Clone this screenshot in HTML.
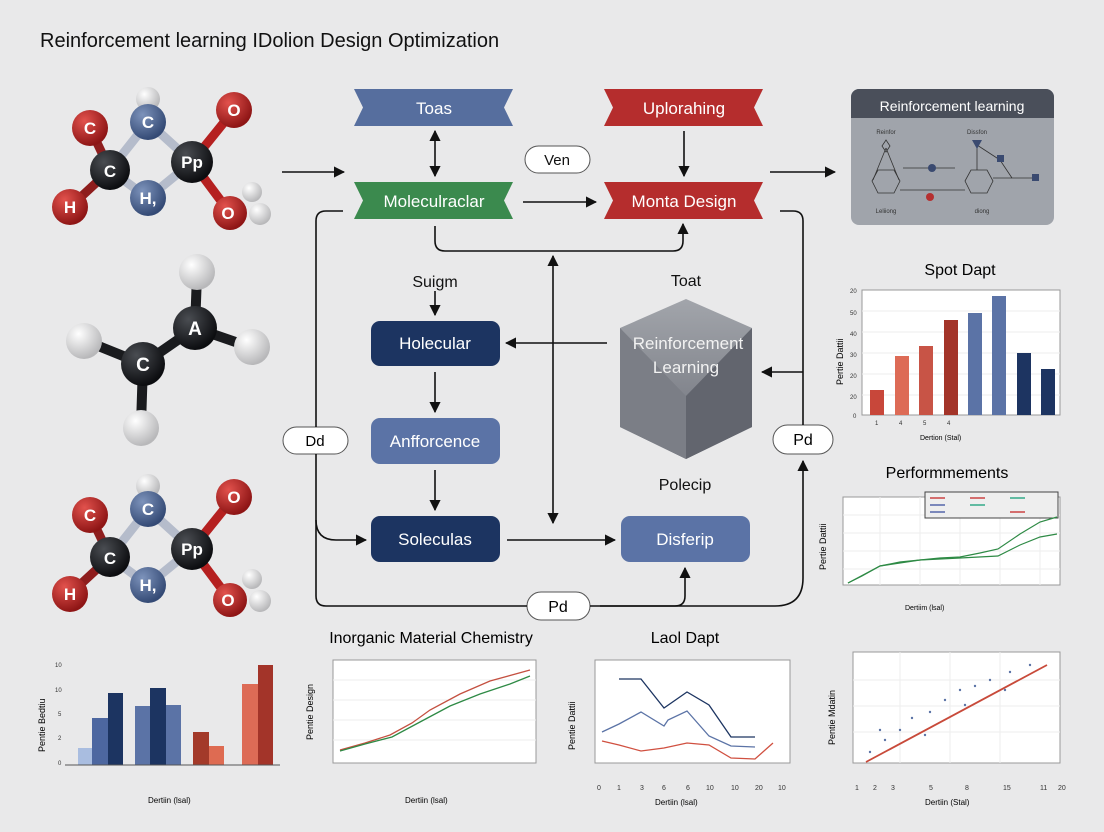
<!DOCTYPE html>
<html><head><meta charset="utf-8"><style>
html,body{margin:0;padding:0;background:#e9e9ea;}
svg{display:block;font-family:"Liberation Sans",sans-serif;}
</style></head><body>
<svg width="1104" height="832" viewBox="0 0 1104 832" xmlns="http://www.w3.org/2000/svg">
<defs>
<radialGradient id="gr" cx="35%" cy="30%" r="70%"><stop offset="0" stop-color="#e2524d"/><stop offset="1" stop-color="#8e1515"/></radialGradient>
<radialGradient id="gb" cx="35%" cy="30%" r="70%"><stop offset="0" stop-color="#7d93bb"/><stop offset="1" stop-color="#344a75"/></radialGradient>
<radialGradient id="gk" cx="35%" cy="30%" r="70%"><stop offset="0" stop-color="#4a4d52"/><stop offset="1" stop-color="#0c0d10"/></radialGradient>
<radialGradient id="gw" cx="35%" cy="30%" r="70%"><stop offset="0" stop-color="#ffffff"/><stop offset="1" stop-color="#b8b8ba"/></radialGradient>
<linearGradient id="hex" x1="0" y1="0" x2="0" y2="1"><stop offset="0" stop-color="#a2a5ab"/><stop offset="1" stop-color="#6d7079"/></linearGradient>
<marker id="ah" viewBox="0 0 10 10" refX="9" refY="5" markerWidth="7" markerHeight="7" orient="auto-start-reverse"><path d="M0,0L10,5L0,10z" fill="#111"/></marker>
<g id="mol1">
 <g stroke-width="9" stroke-linecap="round">
  <line x1="90" y1="128" x2="110" y2="170" stroke="#8e1d1d"/>
  <line x1="110" y1="170" x2="148" y2="122" stroke="#b5bccb"/>
  <line x1="148" y1="122" x2="192" y2="162" stroke="#b5bccb"/>
  <line x1="110" y1="170" x2="70" y2="207" stroke="#8e1d1d"/>
  <line x1="110" y1="170" x2="148" y2="198" stroke="#b5bccb"/>
  <line x1="148" y1="198" x2="192" y2="162" stroke="#b5bccb"/>
  <line x1="192" y1="162" x2="234" y2="110" stroke="#b52020"/>
  <line x1="192" y1="162" x2="230" y2="213" stroke="#b52020"/>
  <line x1="148" y1="122" x2="148" y2="100" stroke="#ccc"/>
 </g>
 <circle cx="148" cy="99" r="12" fill="url(#gw)"/>
 <circle cx="90" cy="128" r="18" fill="url(#gr)"/>
 <circle cx="148" cy="122" r="18" fill="url(#gb)"/>
 <circle cx="234" cy="110" r="18" fill="url(#gr)"/>
 <circle cx="70" cy="207" r="18" fill="url(#gr)"/>
 <circle cx="148" cy="198" r="18" fill="url(#gb)"/>
 <circle cx="110" cy="170" r="20" fill="url(#gk)"/>
 <circle cx="192" cy="162" r="21" fill="url(#gk)"/>
 <circle cx="230" cy="213" r="17" fill="url(#gr)"/>
 <circle cx="252" cy="192" r="10" fill="url(#gw)"/>
 <circle cx="260" cy="214" r="11" fill="url(#gw)"/>
 <g fill="#fff" font-weight="bold" font-size="17" text-anchor="middle">
  <text x="90" y="134">C</text><text x="148" y="128">C</text><text x="110" y="177">C</text>
  <text x="192" y="168">Pp</text><text x="70" y="213">H</text><text x="148" y="204">H,</text>
  <text x="234" y="116">O</text><text x="228" y="219">O</text>
 </g>
</g>
</defs>

<text x="40" y="47" font-size="20" fill="#111">Reinforcement learning IDolion Design Optimization</text>

<use href="#mol1"/>
<use href="#mol1" transform="translate(0,387)"/>
<g stroke-width="10" stroke="#1a1b1e" stroke-linecap="round">
 <line x1="195" y1="328" x2="197" y2="275"/><line x1="195" y1="328" x2="143" y2="364"/>
 <line x1="143" y1="364" x2="86" y2="341"/><line x1="195" y1="328" x2="250" y2="347"/>
 <line x1="143" y1="364" x2="141" y2="425"/>
</g>
<circle cx="197" cy="272" r="18" fill="url(#gw)"/>
<circle cx="84" cy="341" r="18" fill="url(#gw)"/>
<circle cx="252" cy="347" r="18" fill="url(#gw)"/>
<circle cx="141" cy="428" r="18" fill="url(#gw)"/>
<circle cx="195" cy="328" r="22" fill="url(#gk)"/>
<circle cx="143" cy="364" r="22" fill="url(#gk)"/>
<text x="195" y="335" fill="#fff" font-size="19" font-weight="bold" text-anchor="middle">A</text>
<text x="143" y="371" fill="#fff" font-size="19" font-weight="bold" text-anchor="middle">C</text>

<polygon points="354,89 513,89 504,107.5 513,126 354,126 363,107.5" fill="#566e9e"/>
<text x="434" y="114" fill="#fff" font-size="17" text-anchor="middle">Toas</text>
<polygon points="604,89 763,89 754,107.5 763,126 604,126 613,107.5" fill="#b52d2d"/>
<text x="684" y="114" fill="#fff" font-size="17" text-anchor="middle">Uplorahing</text>
<polygon points="354,182 513,182 504,200.5 513,219 354,219 363,200.5" fill="#3b8a4e"/>
<text x="434" y="207" fill="#fff" font-size="17" text-anchor="middle">Moleculraclar</text>
<polygon points="604,182 763,182 754,200.5 763,219 604,219 613,200.5" fill="#b52d2d"/>
<text x="684" y="207" fill="#fff" font-size="17" text-anchor="middle">Monta Design</text>

<rect x="525" y="146" width="65" height="27" rx="13.5" fill="#fff" stroke="#555"/>
<text x="557" y="165" font-size="15" text-anchor="middle" fill="#111">Ven</text>

<rect x="851" y="89" width="203" height="136" rx="8" fill="#a0a4ab"/>
<path d="M851,118 V97 a8,8 0 0 1 8,-8 H1046 a8,8 0 0 1 8,8 V118 z" fill="#4a4f5a"/>
<text x="952" y="111" fill="#fff" font-size="14" text-anchor="middle">Reinforcement learning</text>
<g stroke="#333" fill="none" stroke-width="0.8">
 <polygon points="872,181 878,170 894,170 900,181 894,193 878,193"/>
 <line x1="886" y1="148" x2="873" y2="180"/><line x1="886" y1="148" x2="899" y2="180"/>
 <polygon points="886,140 890,146 886,152 882,146"/>
 <polygon points="965,181 971,170 987,170 993,181 987,193 971,193"/>
 <line x1="903" y1="168" x2="955" y2="168"/><line x1="900" y1="190" x2="965" y2="190"/>
 <line x1="977" y1="145" x2="977" y2="170"/><line x1="977" y1="145" x2="1000" y2="160"/>
 <line x1="1000" y1="160" x2="1012" y2="178"/><line x1="993" y1="178" x2="1035" y2="178"/>
</g>
<circle cx="932" cy="168" r="4" fill="#3a4a70"/><circle cx="930" cy="197" r="4" fill="#b53030"/>
<rect x="997" y="155" width="7" height="7" fill="#3a4a70"/><rect x="1032" y="174" width="7" height="7" fill="#3a4a70"/>
<polygon points="972,140 982,140 977,149" fill="#3a4a70"/>
<g font-size="6" fill="#333" text-anchor="middle"><text x="886" y="134">Reinfor</text><text x="977" y="134">Dissfon</text><text x="886" y="213">Leliiong</text><text x="982" y="213">diong</text></g>

<rect x="371" y="321" width="129" height="45" rx="9" fill="#1c3461"/>
<text x="435" y="349" fill="#fff" font-size="17" text-anchor="middle">Holecular</text>
<rect x="371" y="418" width="129" height="46" rx="9" fill="#5b73a6"/>
<text x="435" y="447" fill="#fff" font-size="17" text-anchor="middle">Anfforcence</text>
<rect x="371" y="516" width="129" height="46" rx="9" fill="#1c3461"/>
<text x="435" y="545" fill="#fff" font-size="17" text-anchor="middle">Soleculas</text>
<rect x="621" y="516" width="129" height="46" rx="9" fill="#5b73a6"/>
<text x="685" y="545" fill="#fff" font-size="17" text-anchor="middle">Disferip</text>

<polygon points="686,299 752,328 752,427 686,459 620,427 620,328" fill="url(#hex)"/>
<polygon points="686,396 752,328 752,427 686,459" fill="#62656e"/>
<polygon points="686,396 620,328 620,427 686,459" fill="#7b7e86"/>
<text x="688" y="349" fill="#f2f2f2" font-size="17" text-anchor="middle">Reinforcement</text>
<text x="686" y="373" fill="#f2f2f2" font-size="17" text-anchor="middle">Learning</text>

<g font-size="16" fill="#111" text-anchor="middle">
<text x="435" y="287">Suigm</text><text x="686" y="286">Toat</text><text x="685" y="490">Polecip</text>
</g>

<rect x="283" y="427" width="65" height="27" rx="13.5" fill="#fff" stroke="#555"/>
<text x="315" y="446" font-size="15" text-anchor="middle">Dd</text>
<rect x="773" y="425" width="60" height="29" rx="14.5" fill="#fff" stroke="#555"/>
<text x="803" y="445" font-size="16" text-anchor="middle">Pd</text>
<rect x="527" y="592" width="63" height="28" rx="14" fill="#fff" stroke="#555"/>
<text x="558" y="612" font-size="16" text-anchor="middle">Pd</text>

<g stroke="#111" stroke-width="1.6" fill="none">
<line x1="282" y1="172" x2="344" y2="172" marker-end="url(#ah)"/>
<line x1="435" y1="131" x2="435" y2="176" marker-start="url(#ah)" marker-end="url(#ah)"/>
<line x1="684" y1="131" x2="684" y2="176" marker-end="url(#ah)"/>
<line x1="523" y1="202" x2="596" y2="202" marker-end="url(#ah)"/>
<line x1="770" y1="172" x2="835" y2="172" marker-end="url(#ah)"/>
<path d="M435,226 V241 q0,10 10,10 H673 q10,0 10,-10 V224" marker-end="url(#ah)"/>
<line x1="553" y1="256" x2="553" y2="523" marker-start="url(#ah)" marker-end="url(#ah)"/>
<line x1="435" y1="291" x2="435" y2="315" marker-end="url(#ah)"/>
<line x1="435" y1="372" x2="435" y2="412" marker-end="url(#ah)"/>
<line x1="435" y1="470" x2="435" y2="510" marker-end="url(#ah)"/>
<line x1="607" y1="343" x2="506" y2="343" marker-end="url(#ah)"/>
<line x1="507" y1="540" x2="615" y2="540" marker-end="url(#ah)"/>
<path d="M343,211 H326 q-10,0 -10,10 V427"/>
<path d="M316,454 V596 q0,10 10,10 H527"/>
<path d="M316,520 q0,20 20,20 H366" marker-end="url(#ah)"/>
<path d="M590,606 H775 q28,0 28,-28 V461" marker-end="url(#ah)"/>
<path d="M600,606 H675 q10,0 10,-10 V568" marker-end="url(#ah)"/>
<path d="M780,211 H793 q10,0 10,10 V425"/>
<line x1="803" y1="372" x2="762" y2="372" marker-end="url(#ah)"/>
</g>

<text x="960" y="275" font-size="16" text-anchor="middle">Spot Dapt</text>
<rect x="862" y="290" width="198" height="125" fill="#fff" stroke="#999"/>
<g stroke="#eee"><line x1="862" y1="311" x2="1060" y2="311"/><line x1="862" y1="332" x2="1060" y2="332"/><line x1="862" y1="353" x2="1060" y2="353"/><line x1="862" y1="374" x2="1060" y2="374"/><line x1="862" y1="395" x2="1060" y2="395"/></g>
<rect x="870" y="390" width="14" height="25" fill="#c8473a"/>
<rect x="895" y="356" width="14" height="59" fill="#dd6b56"/>
<rect x="919" y="346" width="14" height="69" fill="#c85446"/>
<rect x="944" y="320" width="14" height="95" fill="#a33429"/>
<rect x="968" y="313" width="14" height="102" fill="#5b73a6"/>
<rect x="992" y="296" width="14" height="119" fill="#5b73a6"/>
<rect x="1017" y="353" width="14" height="62" fill="#1d3461"/>
<rect x="1041" y="369" width="14" height="46" fill="#1d3461"/>
<g font-size="6" fill="#333"><text x="850" y="293">20</text><text x="850" y="315">50</text><text x="850" y="336">40</text><text x="850" y="357">30</text><text x="850" y="378">20</text><text x="850" y="399">20</text><text x="853" y="418">0</text>
<text x="875" y="425">1</text><text x="899" y="425">4</text><text x="923" y="425">5</text><text x="947" y="425">4</text></g>
<text x="920" y="440" font-size="7">Dertion (Stal)</text>
<text x="843" y="385" font-size="9" transform="rotate(-90 843 385)">Pertie Dattii</text>

<text x="947" y="478" font-size="16" text-anchor="middle">Performmements</text>
<rect x="843" y="497" width="217" height="88" fill="#fff" stroke="#999"/>
<g stroke="#eee"><line x1="843" y1="515" x2="1060" y2="515"/><line x1="843" y1="533" x2="1060" y2="533"/><line x1="843" y1="551" x2="1060" y2="551"/><line x1="843" y1="569" x2="1060" y2="569"/><line x1="880" y1="497" x2="880" y2="585"/><line x1="920" y1="497" x2="920" y2="585"/><line x1="960" y1="497" x2="960" y2="585"/><line x1="1000" y1="497" x2="1000" y2="585"/><line x1="1040" y1="497" x2="1040" y2="585"/></g>
<rect x="925" y="492" width="133" height="26" fill="#eee" stroke="#444"/>
<g stroke-width="1.5"><line x1="930" y1="498" x2="945" y2="498" stroke="#c44"/><line x1="930" y1="505" x2="945" y2="505" stroke="#56a"/><line x1="930" y1="512" x2="945" y2="512" stroke="#56a"/><line x1="970" y1="498" x2="985" y2="498" stroke="#c44"/><line x1="970" y1="505" x2="985" y2="505" stroke="#3a8"/><line x1="1010" y1="498" x2="1025" y2="498" stroke="#3a8"/><line x1="1010" y1="512" x2="1025" y2="512" stroke="#c44"/></g>
<polyline points="848,583 862,576 880,566 900,562 920,560 940,558 960,557 980,553 998,549 1020,534 1040,522 1057,517" fill="none" stroke="#2e8a45" stroke-width="1.2"/>
<polyline points="848,583 880,566 920,560 960,558 998,556 1020,545 1040,537 1057,534" fill="none" stroke="#2e8a45" stroke-width="1.2"/>
<text x="905" y="610" font-size="7">Dertiim (lsal)</text>
<text x="826" y="570" font-size="9" transform="rotate(-90 826 570)">Pertie Dattii</text>

<g fill="#333" font-size="6"><text x="55" y="667">10</text><text x="55" y="692">10</text><text x="58" y="716">5</text><text x="58" y="740">2</text><text x="58" y="765">0</text></g>
<rect x="78" y="748" width="14" height="17" fill="#a9bde0"/>
<rect x="92" y="718" width="16" height="47" fill="#4d67a0"/>
<rect x="108" y="693" width="15" height="72" fill="#1c3461"/>
<rect x="135" y="706" width="15" height="59" fill="#5b73a6"/>
<rect x="150" y="688" width="16" height="77" fill="#1c3461"/>
<rect x="166" y="705" width="15" height="60" fill="#5b73a6"/>
<rect x="193" y="732" width="16" height="33" fill="#a33a2a"/>
<rect x="209" y="746" width="15" height="19" fill="#de6b52"/>
<rect x="242" y="684" width="16" height="81" fill="#dd6b56"/>
<rect x="258" y="665" width="15" height="100" fill="#a33429"/>
<line x1="65" y1="765" x2="280" y2="765" stroke="#555"/>
<text x="148" y="803" font-size="8">Dertiin (lsal)</text>
<text x="45" y="752" font-size="9" transform="rotate(-90 45 752)">Pentie Bedtiu</text>

<text x="431" y="643" font-size="16" text-anchor="middle">Inorganic Material Chemistry</text>
<rect x="333" y="660" width="203" height="103" fill="#fff" stroke="#999"/>
<g stroke="#eee"><line x1="333" y1="680" x2="536" y2="680"/><line x1="333" y1="700" x2="536" y2="700"/><line x1="333" y1="720" x2="536" y2="720"/><line x1="333" y1="740" x2="536" y2="740"/></g>
<polyline points="340,740 365,733 390,725 412,713 430,700 460,684 490,671 530,660" fill="none" stroke="#c45040" stroke-width="1.3" transform="translate(0,10)"/>
<polyline points="340,747 365,740 392,733 420,718 450,702 480,690 510,680 530,672" fill="none" stroke="#2e8a45" stroke-width="1.3" transform="translate(0,4)"/>
<text x="405" y="803" font-size="8">Dertiin (lsal)</text>
<text x="313" y="740" font-size="9" transform="rotate(-90 313 740)">Pentie Design</text>

<text x="685" y="643" font-size="16" text-anchor="middle">Laol Dapt</text>
<rect x="595" y="660" width="195" height="103" fill="#fff" stroke="#999"/>
<polyline points="619,679 641,679 664,708 687,692 709,705 731,737 755,737" fill="none" stroke="#1c3461" stroke-width="1.3"/>
<polyline points="602,732 619,724 641,712 664,726 668,720 687,711 709,736 731,746 755,747" fill="none" stroke="#5b73a6" stroke-width="1.3"/>
<polyline points="602,746 619,750 641,756 664,753 687,748 709,750 731,763 755,764 773,748" fill="none" stroke="#d05040" stroke-width="1.3" transform="translate(0,-5)"/>
<g font-size="7" fill="#333"><text x="597" y="790">0</text><text x="617" y="790">1</text><text x="640" y="790">3</text><text x="662" y="790">6</text><text x="686" y="790">6</text><text x="706" y="790">10</text><text x="731" y="790">10</text><text x="755" y="790">20</text><text x="778" y="790">10</text></g>
<text x="655" y="805" font-size="8">Dertiin (lsal)</text>
<text x="575" y="750" font-size="9" transform="rotate(-90 575 750)">Pentie Dattii</text>

<rect x="853" y="652" width="207" height="111" fill="#fff" stroke="#999"/>
<g stroke="#eee"><line x1="853" y1="680" x2="1060" y2="680"/><line x1="853" y1="706" x2="1060" y2="706"/><line x1="853" y1="732" x2="1060" y2="732"/><line x1="900" y1="652" x2="900" y2="763"/><line x1="950" y1="652" x2="950" y2="763"/><line x1="1000" y1="652" x2="1000" y2="763"/></g>
<g fill="#5b73a6"><circle cx="870" cy="752" r="1.2"/><circle cx="885" cy="740" r="1.2"/><circle cx="900" cy="730" r="1.2"/><circle cx="912" cy="718" r="1.2"/><circle cx="930" cy="712" r="1.2"/><circle cx="945" cy="700" r="1.2"/><circle cx="960" cy="690" r="1.2"/><circle cx="975" cy="686" r="1.2"/><circle cx="990" cy="680" r="1.2"/><circle cx="1010" cy="672" r="1.2"/><circle cx="1030" cy="665" r="1.2"/><circle cx="880" cy="730" r="1.2"/><circle cx="925" cy="735" r="1.2"/><circle cx="965" cy="705" r="1.2"/><circle cx="1005" cy="690" r="1.2"/></g>
<line x1="866" y1="762" x2="1047" y2="665" stroke="#c84a3a" stroke-width="1.8"/>
<g font-size="7" fill="#333"><text x="855" y="790">1</text><text x="873" y="790">2</text><text x="891" y="790">3</text><text x="929" y="790">5</text><text x="965" y="790">8</text><text x="1003" y="790">15</text><text x="1040" y="790">11</text><text x="1058" y="790">20</text></g>
<text x="925" y="805" font-size="8">Dertiin (Stal)</text>
<text x="835" y="745" font-size="9" transform="rotate(-90 835 745)">Pentie Mdatin</text>
</svg>
</body></html>
